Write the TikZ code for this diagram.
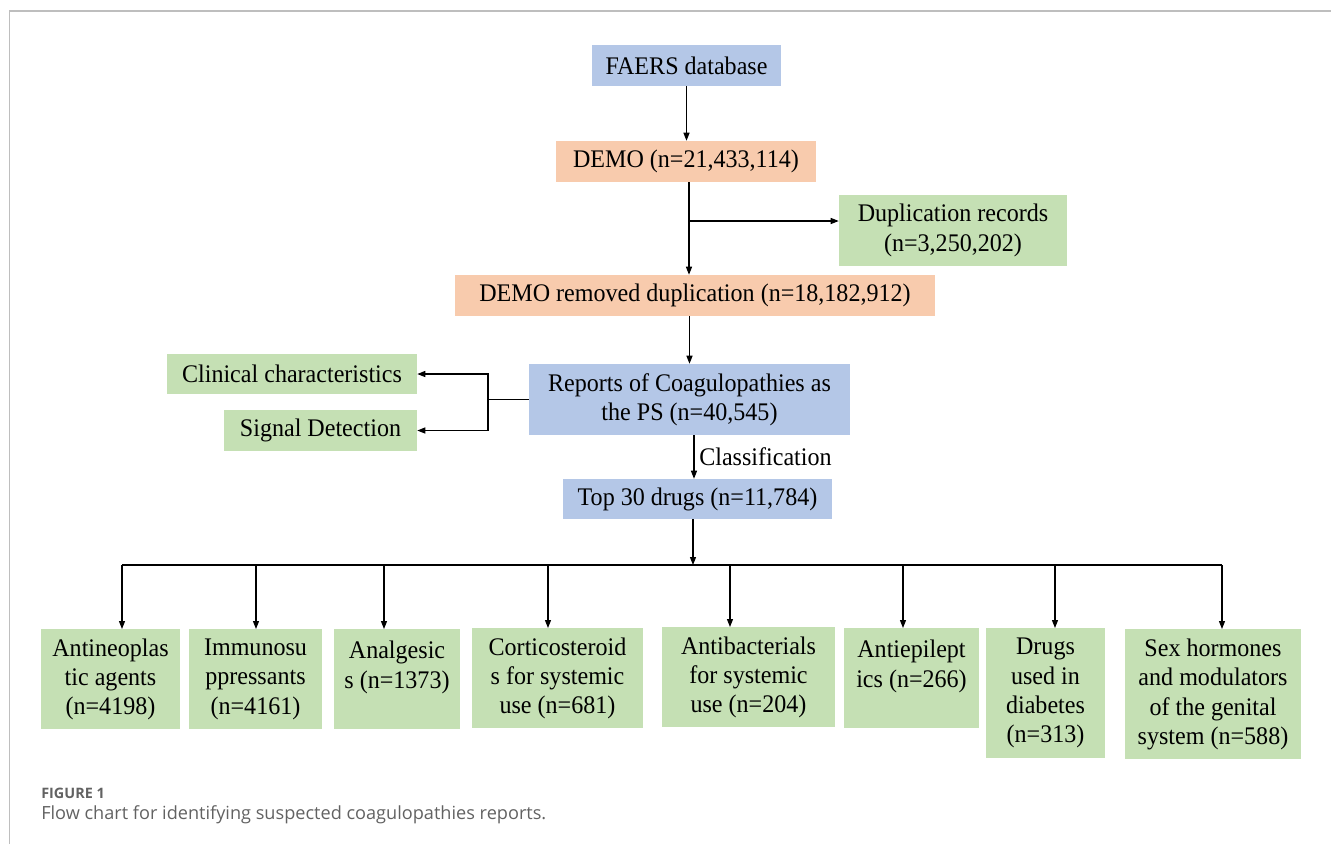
\documentclass[tikz,border=0pt]{standalone}
\usepackage{fontspec}
\setmainfont{Liberation Serif}[FakeStretch=0.95]
\newfontfamily\capfont{Open Sans}
\usetikzlibrary{arrows.meta}
\usepackage{xcolor}

\definecolor{boxblue}{RGB}{180,199,231}
\definecolor{boxorange}{RGB}{248,203,173}
\definecolor{boxgreen}{RGB}{197,224,180}
\definecolor{framegray}{RGB}{190,190,190}
\definecolor{capgray}{RGB}{98,98,98}

\tikzset{
  box/.style={rectangle, inner sep=0pt, align=center, font=\fontsize{19}{22}\selectfont},
  bluebox/.style={box, fill=boxblue},
  orangebox/.style={box, fill=boxorange},
  greenbox/.style={box, fill=boxgreen},
  drugbox/.style={greenbox, anchor=north, minimum height=75pt},
  link/.style={line width=0.9pt},
  arr/.style={link, -{Triangle[length=6pt,width=4.5pt]}},
}

\begin{document}
\begin{tikzpicture}[x=0.75pt,y=0.75pt,yscale=-1,xscale=1]
\useasboundingbox (0,0) rectangle (1331,844);

%Frame
\draw [framegray, line width=1.1pt] (9.5,844) -- (9.5,11) -- (1331,11);

%Upper chain
\node [bluebox, minimum width=141.75pt, minimum height=30.75pt] (faers) at (686.5,65.5) {FAERS database};
\node [orangebox, minimum width=195pt, minimum height=30.75pt] (demo) at (686,161.5) {DEMO (n=21,433,114)};
\node [greenbox, minimum width=171pt, minimum height=53.25pt] (dup) at (953,230.5) {Duplication records\\(n=3,250,202)};
\node [orangebox, minimum width=360pt, minimum height=30.75pt] (demorm) at (695,295.5) {DEMO removed duplication (n=18,182,912)};
\node [bluebox, minimum width=240.75pt, minimum height=53.25pt] (reports) at (689.5,399.5) {Reports of Coagulopathies as\\the PS (n=40,545)};
\node [greenbox, minimum width=187.5pt, minimum height=30pt] (clinical) at (292,374) {Clinical characteristics};
\node [greenbox, minimum width=144.75pt, minimum height=30.75pt] (signal) at (320.5,430.5) {Signal Detection};
\node [bluebox, minimum width=201.75pt, minimum height=30pt] (top30) at (697.5,499) {Top 30 drugs (n=11,784)};

%Drug classes
\node [drugbox, minimum width=104.25pt] (antineo) at (110.5,629) {Antineoplas\\tic agents\\(n=4198)};
\node [drugbox, minimum width=99.75pt] (immuno) at (255.5,629) {Immunosu\\ppressants\\(n=4161)};
\node [drugbox, minimum width=94.5pt] (analg) at (397,629) {Analgesic\\s (n=1373)\\\mbox{}};
\node [drugbox, minimum width=128.25pt] (cortico) at (557.5,628) {Corticosteroid\\s for systemic\\use (n=681)};
\node [drugbox, minimum width=129.75pt] (antibac) at (748.5,627) {Antibacterials\\for systemic\\use (n=204)};
\node [drugbox, minimum width=101.25pt] (antiep) at (911.5,628) {Antiepilept\\ics (n=266)\\\mbox{}};
\node [drugbox, minimum width=89.25pt, minimum height=97.5pt] (diab) at (1045.5,628) {Drugs\\used in\\diabetes\\(n=313)};
\node [drugbox, minimum width=132pt, minimum height=97.5pt] (sexhorm) at (1213,629) {Sex hormones\\and modulators\\of the genital\\system (n=588)};

%Connectors
\draw [arr] (faers.south) -- (faers.south |- demo.north);
\coordinate (split) at (689,221);
\draw [arr] (split |- demo.south) -- (split |- demorm.north);
\draw [arr] (split) -- (split -| dup.west);
\draw [arr] (demorm.south -| reports.north) -- (reports.north);
\coordinate (fork) at (488,399.5);
\draw [link] (reports.west) -- (fork);
\draw [arr] (fork) |- (clinical.east);
\draw [arr] (fork) |- (signal.east);
\coordinate (cls) at (694,457);
\draw [arr] (cls |- reports.south) -- (cls |- top30.north);
\coordinate (hub) at (693,565);
\draw [arr] (hub |- top30.south) -- (hub);

\foreach \x [count=\i] in {122,256,384,548,730,903,1055,1222}
  \coordinate (b\i) at (\x,565);
\draw [link] (b1) -- (b8);
\foreach \i/\n in {1/antineo,2/immuno,3/analg,4/cortico,5/antibac,6/antiep,7/diab,8/sexhorm}
  \draw [arr] (b\i) -- (b\i |- \n.north);

% Text Node
\node [anchor=west, inner sep=3.75pt, font=\fontsize{19}{22}\selectfont] (clslabel) at (cls) {Classification};

%Caption
\node [anchor=base west, inner sep=0pt, text=capgray, font=\capfont\bfseries\fontsize{10.8}{12}\selectfont] (figlabel) at (41,798) {FIGURE 1};
\node [anchor=base west, inner sep=0pt, text=capgray, font=\capfont\fontsize{13.6}{15}\selectfont] (figcaption) at (41,819) {Flow chart for identifying suspected coagulopathies reports.};

\end{tikzpicture}
\end{document}
